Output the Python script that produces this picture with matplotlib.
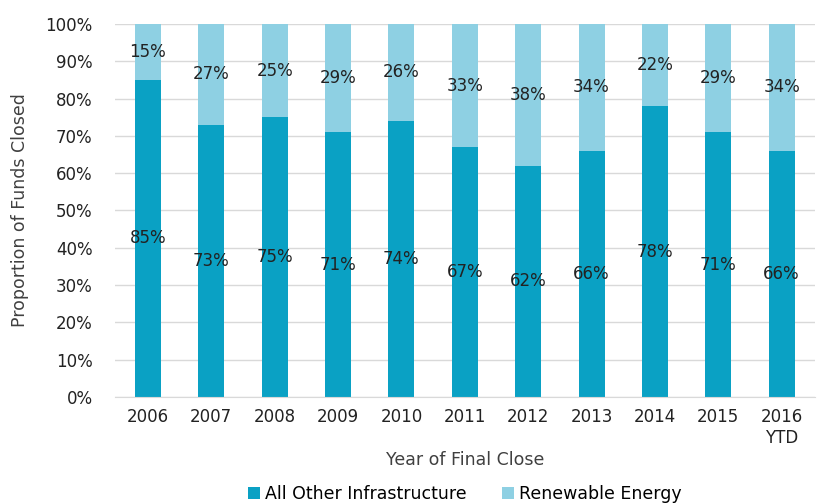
import numpy as np
import matplotlib.pyplot as plt

years = ['2006', '2007', '2008', '2009', '2010', '2011', '2012', '2013', '2014', '2015', '2016\nYTD']
other = [85, 73, 75, 71, 74, 67, 62, 66, 78, 71, 66]
renew = [15, 27, 25, 29, 26, 33, 38, 34, 22, 29, 34]

c_other = '#0aa1c4'
c_renew = '#8ed0e3'

plt.rcParams['font.family'] = 'DejaVu Sans'
fig = plt.figure(figsize=(8.27, 5.04), dpi=100)
ax = fig.add_axes([0.139, 0.2123, 0.846, 0.7401])

x = np.arange(len(years))
o = np.array(other) / 100
r = np.array(renew) / 100
b1 = ax.bar(x, o, 0.41, color=c_other, label='All Other Infrastructure', zorder=2)
b2 = ax.bar(x, r, 0.41, bottom=o, color=c_renew, label='Renewable Energy', zorder=2)

for i in range(len(x)):
    ax.text(x[i], o[i] / 2, f'{other[i]}%', ha='center', va='center', fontsize=12, color='#222222', zorder=3)
    ax.text(x[i], o[i] + r[i] / 2, f'{renew[i]}%', ha='center', va='center', fontsize=12, color='#222222', zorder=3)

ax.set_ylim(0, 1)
ax.set_xlim(-0.52, len(years) - 0.48)
ax.set_yticks(np.arange(0, 1.01, 0.1))
ax.set_yticklabels([f'{v}%' for v in range(0, 101, 10)])
ax.set_xticks(x)
ax.set_xticklabels(years)
ax.tick_params(axis='both', length=0, labelsize=12, colors='#222222')
ax.tick_params(axis='y', pad=16)
ax.tick_params(axis='x', pad=8)
ax.yaxis.grid(True, color='#d9d9d9', linewidth=1, zorder=0)
for s in ['top', 'right', 'left']:
    ax.spines[s].set_visible(False)
ax.spines['bottom'].set_color('#d9d9d9')

ax.set_xlabel('Year of Final Close', fontsize=12.5, color='#404040', labelpad=3)
ax.set_ylabel('Proportion of Funds Closed', fontsize=12.5, color='#404040', labelpad=12)

fig.legend(handles=[b1, b2], loc='lower center', bbox_to_anchor=(0.562, -0.03), ncol=2,
           frameon=False, fontsize=12.5, handlelength=0.7, handleheight=0.7,
           columnspacing=2.0, handletextpad=0.3)

fig.savefig('out.png', dpi=100)
